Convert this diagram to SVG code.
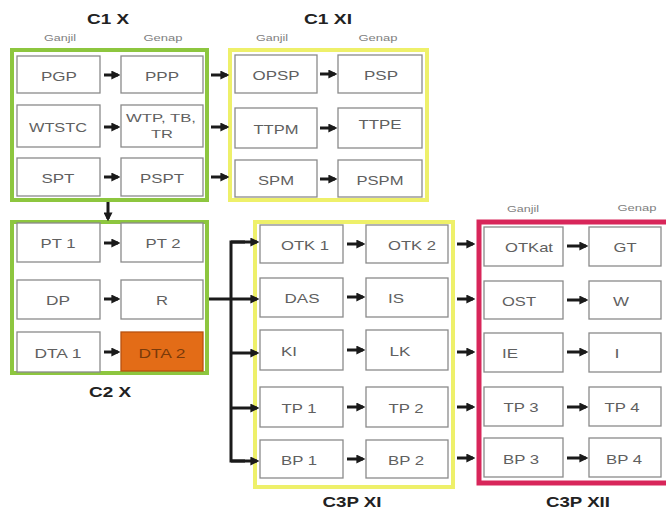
<svg xmlns="http://www.w3.org/2000/svg" width="666" height="511" viewBox="0 0 666 511">
<style>
.bg{fill:#ffffff}
.box rect{fill:#ffffff;stroke:#8a8a8a;stroke-width:1.3}
.box text{font-family:"Liberation Sans",Arial,sans-serif;font-size:13px;fill:#606060;text-anchor:middle;dominant-baseline:central}
.box text.sm{font-size:11.5px}
.title{font-family:"Liberation Sans",Arial,sans-serif;font-size:14px;font-weight:bold;fill:#222222;text-anchor:middle}
.sub{font-family:"Liberation Sans",Arial,sans-serif;font-size:9px;fill:#808080;text-anchor:middle}
.fg{fill:none;stroke:#8dc63f;stroke-width:4}
.fy{fill:none;stroke:#eef06a;stroke-width:4}
.fr{fill:none;stroke:#d8265a;stroke-width:5}
.conn line,.conn path{stroke:#1a1a1a;stroke-width:3;fill:none}
.conn .a{marker-end:url(#ah)}
.orange rect{fill:#e36c17;stroke:#b85210}
.orange text{fill:#7a3a0a}
</style>
<defs>
<marker id="ah" markerWidth="3" markerHeight="3" refX="2.2" refY="1.5" orient="auto" markerUnits="strokeWidth">
<path d="M0,0 L3,1.5 L0,3 z" fill="#1a1a1a"/>
</marker>
</defs>
<rect class="bg" x="0" y="0" width="666" height="511"/>

<!-- titles -->
<text class="title" x="108" y="24" textLength="42" lengthAdjust="spacingAndGlyphs">C1 X</text>
<text class="title" x="328" y="24" textLength="48" lengthAdjust="spacingAndGlyphs">C1 XI</text>
<text class="title" x="110" y="397" textLength="42" lengthAdjust="spacingAndGlyphs">C2 X</text>
<text class="title" x="352" y="507" textLength="59" lengthAdjust="spacingAndGlyphs">C3P XI</text>
<text class="title" x="578" y="507" textLength="64" lengthAdjust="spacingAndGlyphs">C3P XII</text>
<text class="sub" x="60" y="41" textLength="32" lengthAdjust="spacingAndGlyphs">Ganjil</text>
<text class="sub" x="163" y="41" textLength="39" lengthAdjust="spacingAndGlyphs">Genap</text>
<text class="sub" x="272" y="41" textLength="32" lengthAdjust="spacingAndGlyphs">Ganjil</text>
<text class="sub" x="378" y="41" textLength="39" lengthAdjust="spacingAndGlyphs">Genap</text>
<text class="sub" x="523" y="212" textLength="32" lengthAdjust="spacingAndGlyphs">Ganjil</text>
<text class="sub" x="637" y="211" textLength="39" lengthAdjust="spacingAndGlyphs">Genap</text>

<!-- frames -->
<rect class="fg" x="12" y="50" width="195" height="150"/>
<rect class="fy" x="230" y="50" width="197" height="150"/>
<rect class="fg" x="12" y="222" width="195" height="151"/>
<rect class="fy" x="255" y="222" width="198" height="265"/>
<rect class="fr" x="479" y="222" width="200" height="261"/>

<!-- C1 X -->
<g id="PGP" class="box"><rect x="17" y="56" width="83" height="37"/><text x="59" y="76" textLength="36" lengthAdjust="spacingAndGlyphs">PGP</text></g>
<g id="PPP" class="box"><rect x="121" y="56" width="82" height="37"/><text x="162" y="76" textLength="34" lengthAdjust="spacingAndGlyphs">PPP</text></g>
<g id="WTSTC" class="box"><rect x="17" y="105" width="83" height="42"/><text x="58" y="127" textLength="58" lengthAdjust="spacingAndGlyphs">WTSTC</text></g>
<g id="WTP" class="box"><rect x="121" y="105" width="82" height="42"/><text class="sm" x="161" y="118" textLength="70" lengthAdjust="spacingAndGlyphs">WTP, TB,</text><text class="sm" x="162" y="134" textLength="22" lengthAdjust="spacingAndGlyphs">TR</text></g>
<g id="SPT" class="box"><rect x="17" y="158" width="83" height="38"/><text x="58" y="178" textLength="33" lengthAdjust="spacingAndGlyphs">SPT</text></g>
<g id="PSPT" class="box"><rect x="121" y="158" width="82" height="38"/><text x="162" y="178" textLength="44" lengthAdjust="spacingAndGlyphs">PSPT</text></g>

<!-- C1 XI -->
<g id="OPSP" class="box"><rect x="235" y="55" width="82" height="38"/><text x="276" y="75" textLength="47" lengthAdjust="spacingAndGlyphs">OPSP</text></g>
<g id="PSP" class="box"><rect x="338" y="55" width="84" height="38"/><text x="381" y="75" textLength="34" lengthAdjust="spacingAndGlyphs">PSP</text></g>
<g id="TTPM" class="box"><rect x="235" y="108" width="82" height="40"/><text x="276" y="129" textLength="45" lengthAdjust="spacingAndGlyphs">TTPM</text></g>
<g id="TTPE" class="box"><rect x="338" y="108" width="84" height="40"/><text x="380" y="124" textLength="43" lengthAdjust="spacingAndGlyphs">TTPE</text></g>
<g id="SPM" class="box"><rect x="235" y="160" width="82" height="37"/><text x="276" y="180" textLength="36" lengthAdjust="spacingAndGlyphs">SPM</text></g>
<g id="PSPM" class="box"><rect x="338" y="160" width="84" height="37"/><text x="380" y="180" textLength="47" lengthAdjust="spacingAndGlyphs">PSPM</text></g>

<!-- C2 X -->
<g id="PT1" class="box"><rect x="17" y="223" width="83" height="39"/><text x="58" y="243" textLength="35" lengthAdjust="spacingAndGlyphs">PT 1</text></g>
<g id="PT2" class="box"><rect x="121" y="223" width="82" height="39"/><text x="163" y="243" textLength="35" lengthAdjust="spacingAndGlyphs">PT 2</text></g>
<g id="DP" class="box"><rect x="17" y="280" width="83" height="39"/><text x="58" y="300" textLength="24" lengthAdjust="spacingAndGlyphs">DP</text></g>
<g id="R" class="box"><rect x="121" y="280" width="82" height="39"/><text x="162" y="300" textLength="12" lengthAdjust="spacingAndGlyphs">R</text></g>
<g id="DTA1" class="box"><rect x="17" y="332" width="83" height="40"/><text x="58" y="353" textLength="47" lengthAdjust="spacingAndGlyphs">DTA 1</text></g>
<g id="DTA2" class="box orange"><rect x="121" y="332" width="82" height="39"/><text x="162" y="353" textLength="47" lengthAdjust="spacingAndGlyphs">DTA 2</text></g>

<!-- C3P XI -->
<g id="OTK1" class="box"><rect x="260" y="225" width="83" height="38"/><text x="305" y="245" textLength="48" lengthAdjust="spacingAndGlyphs">OTK 1</text></g>
<g id="OTK2" class="box"><rect x="366" y="225" width="82" height="38"/><text x="412" y="245" textLength="48" lengthAdjust="spacingAndGlyphs">OTK 2</text></g>
<g id="DAS" class="box"><rect x="260" y="278" width="83" height="39"/><text x="302" y="298" textLength="35" lengthAdjust="spacingAndGlyphs">DAS</text></g>
<g id="IS" class="box"><rect x="366" y="278" width="82" height="39"/><text x="396" y="298" textLength="16" lengthAdjust="spacingAndGlyphs">IS</text></g>
<g id="KI" class="box"><rect x="260" y="330" width="83" height="40"/><text x="289" y="351" textLength="16" lengthAdjust="spacingAndGlyphs">KI</text></g>
<g id="LK" class="box"><rect x="366" y="330" width="82" height="40"/><text x="400" y="351" textLength="21" lengthAdjust="spacingAndGlyphs">LK</text></g>
<g id="TP1" class="box"><rect x="260" y="387" width="83" height="40"/><text x="299" y="408" textLength="35" lengthAdjust="spacingAndGlyphs">TP 1</text></g>
<g id="TP2" class="box"><rect x="366" y="387" width="82" height="40"/><text x="406" y="408" textLength="35" lengthAdjust="spacingAndGlyphs">TP 2</text></g>
<g id="BP1" class="box"><rect x="260" y="440" width="83" height="38"/><text x="299" y="460" textLength="36" lengthAdjust="spacingAndGlyphs">BP 1</text></g>
<g id="BP2" class="box"><rect x="366" y="440" width="82" height="38"/><text x="406" y="460" textLength="36" lengthAdjust="spacingAndGlyphs">BP 2</text></g>

<!-- C3P XII -->
<g id="OTKat" class="box"><rect x="484" y="227" width="79" height="39"/><text x="529" y="247" textLength="48" lengthAdjust="spacingAndGlyphs">OTKat</text></g>
<g id="GT" class="box"><rect x="589" y="227" width="72" height="39"/><text x="625" y="247" textLength="23" lengthAdjust="spacingAndGlyphs">GT</text></g>
<g id="OST" class="box"><rect x="484" y="281" width="79" height="38"/><text x="519" y="301" textLength="34" lengthAdjust="spacingAndGlyphs">OST</text></g>
<g id="W" class="box"><rect x="589" y="281" width="72" height="38"/><text x="621" y="301" textLength="16" lengthAdjust="spacingAndGlyphs">W</text></g>
<g id="IE" class="box"><rect x="484" y="333" width="79" height="39"/><text x="510" y="353" textLength="16" lengthAdjust="spacingAndGlyphs">IE</text></g>
<g id="I" class="box"><rect x="589" y="333" width="72" height="39"/><text x="617" y="353" textLength="5" lengthAdjust="spacingAndGlyphs">I</text></g>
<g id="TP3" class="box"><rect x="484" y="387" width="79" height="39"/><text x="521" y="407" textLength="35" lengthAdjust="spacingAndGlyphs">TP 3</text></g>
<g id="TP4" class="box"><rect x="589" y="387" width="72" height="39"/><text x="622" y="407" textLength="35" lengthAdjust="spacingAndGlyphs">TP 4</text></g>
<g id="BP3" class="box"><rect x="484" y="438" width="79" height="39"/><text x="521" y="459" textLength="36" lengthAdjust="spacingAndGlyphs">BP 3</text></g>
<g id="BP4" class="box"><rect x="589" y="438" width="72" height="39"/><text x="624" y="459" textLength="36" lengthAdjust="spacingAndGlyphs">BP 4</text></g>

<!-- connectors -->
<g id="connectors" class="conn">
<line class="a" x1="104" y1="75" x2="118" y2="75"/>
<line class="a" x1="104" y1="127" x2="118" y2="127"/>
<line class="a" x1="104" y1="177" x2="118" y2="177"/>
<line class="a" x1="211" y1="75" x2="227" y2="75"/>
<line class="a" x1="211" y1="127" x2="227" y2="127"/>
<line class="a" x1="211" y1="177" x2="227" y2="177"/>
<line class="a" x1="320" y1="74" x2="335" y2="74"/>
<line class="a" x1="320" y1="128" x2="335" y2="128"/>
<line class="a" x1="320" y1="179" x2="335" y2="179"/>
<line class="a" x1="108" y1="202" x2="108" y2="219"/>
<line class="a" x1="104" y1="243" x2="118" y2="243"/>
<line class="a" x1="104" y1="299" x2="118" y2="299"/>
<line class="a" x1="104" y1="352" x2="118" y2="352"/>
<line class="a" x1="209" y1="299" x2="257" y2="299"/>
<path d="M245,242 H231 V461 H245"/>
<line class="a" x1="231" y1="242" x2="257" y2="242"/>
<line class="a" x1="231" y1="353" x2="257" y2="353"/>
<line class="a" x1="231" y1="408" x2="257" y2="408"/>
<line class="a" x1="231" y1="461" x2="257" y2="461"/>
<line class="a" x1="347" y1="244" x2="363" y2="244"/>
<line class="a" x1="347" y1="297" x2="363" y2="297"/>
<line class="a" x1="347" y1="350" x2="363" y2="350"/>
<line class="a" x1="347" y1="407" x2="363" y2="407"/>
<line class="a" x1="347" y1="459" x2="363" y2="459"/>
<line class="a" x1="457" y1="244" x2="473" y2="244"/>
<line class="a" x1="457" y1="299" x2="473" y2="299"/>
<line class="a" x1="457" y1="352" x2="473" y2="352"/>
<line class="a" x1="457" y1="407" x2="473" y2="407"/>
<line class="a" x1="457" y1="458" x2="473" y2="458"/>
<line class="a" x1="567" y1="246" x2="586" y2="246"/>
<line class="a" x1="567" y1="300" x2="586" y2="300"/>
<line class="a" x1="567" y1="352" x2="586" y2="352"/>
<line class="a" x1="567" y1="407" x2="586" y2="407"/>
<line class="a" x1="567" y1="458" x2="586" y2="458"/>
</g>
</svg>
